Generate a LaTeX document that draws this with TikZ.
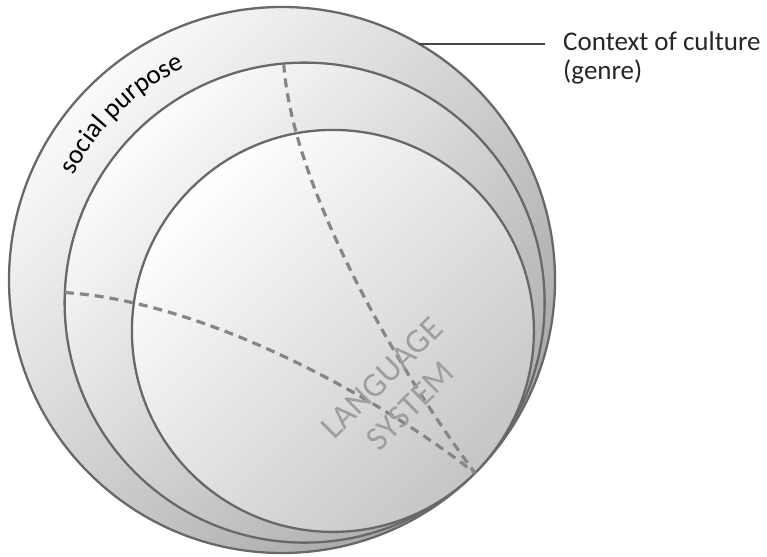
\documentclass[tikz,border=0pt]{standalone}
\usepackage{fontspec}
\setmainfont{Carlito}
\usetikzlibrary{calc,decorations.text}

\definecolor{rimgray}{HTML}{686868}
\definecolor{seamgray}{HTML}{868686}
\definecolor{langgray}{HTML}{9E9E9E}
\tikzset{
  rim/.style={draw=rimgray,line width=2.3pt},
  seam/.style={draw=seamgray,line width=3.2pt,line cap=butt,dash pattern=on 9pt off 6pt},
}

\begin{document}
\begin{tikzpicture}[x=1pt,y=1pt,line cap=round,line join=round]
  \useasboundingbox (0,0) rectangle (767,556);
  \coordinate (O) at (282,276);
  \coordinate (M) at ($(O)+(-45:32)$);
  \coordinate (I) at ($(O)+(-45:72)$);
  \coordinate (T) at ($(O)+(-45:273)$);
  % nested spheres
  \shade[rim,top color=gray!4,bottom color=gray!70,shading angle=45] (O) circle (273);
  \shade[rim,top color=gray!2,bottom color=gray!66,shading angle=45] (M) circle (240);
  \shade[rim,top color=white,bottom color=gray!45,shading angle=45] (I) circle (201);
  % seams
  \coordinate (s1) at ($(M)+(95:240)$);
  \coordinate (s2) at ($(M)+(177.6:240)$);
  \draw[seam] (s1) .. controls (292,370) and (395,190) .. (T);
  \draw[seam] (s2) .. controls (200,255) and (370,165) .. (T);
  % labels
  \node[rotate=45,align=center,text=langgray,inner sep=0pt,
    font=\fontsize{34}{40}\selectfont] (lang) at (396,164) {LANGUAGE\\SYSTEM};
  \path[decorate,decoration={text along path,text align=center,
    text={|\fontsize{27}{27}\selectfont|social purpose}}]
    (O) ++(157:233) arc (157:111:233);
  \node[anchor=north west,align=left,inner sep=0pt,text=black!85,
    font=\fontsize{27}{29}\selectfont] (ctx) at (563,524) {Context of culture\\(genre)};
  \coordinate (lead) at ($(O)+(60:273)$);
  \draw[line width=2pt,draw=black!72,line cap=butt,shorten >=18pt] (lead) -- (lead -| ctx.west);
\end{tikzpicture}
\end{document}
